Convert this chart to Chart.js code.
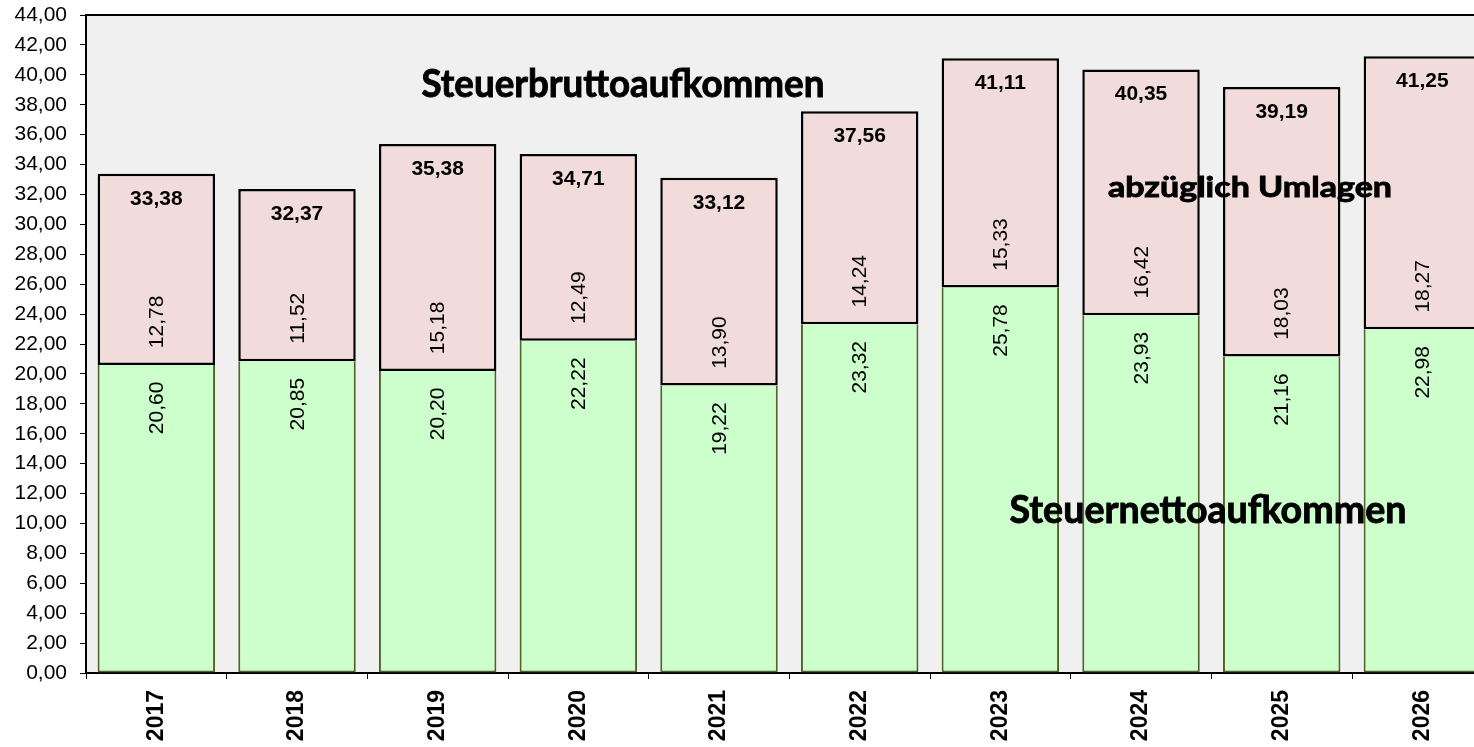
<!DOCTYPE html>
<html>
<head>
<meta charset="utf-8">
<script src="https://cdn.jsdelivr.net/npm/chart.js@4/dist/chart.umd.min.js"></script>
<style>
  html, body { margin: 0; padding: 0; background: #fff; overflow: hidden; }
  #wrap { width: 1474px; height: 747px; overflow: hidden; }
</style>
</head>
<body>
<div id="wrap"><canvas id="chart" width="1500" height="747"></canvas></div>
<script>
const years = ['2017', '2018', '2019', '2020', '2021', '2022', '2023', '2024', '2025', '2026'];
const netto = [20.60, 20.85, 20.20, 22.22, 19.22, 23.32, 25.78, 23.93, 21.16, 22.98];
const umlagen = [12.78, 11.52, 15.18, 12.49, 13.90, 14.24, 15.33, 16.42, 18.03, 18.27];
const brutto = [33.38, 32.37, 35.38, 34.71, 33.12, 37.56, 41.11, 40.35, 39.19, 41.25];

function fmt(v) {
  return v.toFixed(2).replace('.', ',');
}

// grauer Hintergrund + Rahmen oben
const plotBackground = {
  id: 'plotBackground',
  beforeDraw(chart) {
    const { ctx, chartArea: a } = chart;
    ctx.save();
    ctx.fillStyle = '#f0f0f0';
    ctx.fillRect(a.left, a.top, a.right - a.left, a.bottom - a.top);
    ctx.strokeStyle = '#000';
    ctx.lineWidth = 2;
    ctx.beginPath();
    ctx.moveTo(a.left, a.top);
    ctx.lineTo(a.right, a.top);
    ctx.lineTo(a.right, a.bottom);
    ctx.stroke();
    ctx.restore();
  }
};

// Beschriftung: Mitte x, Grundlinie y, Versalhoehe capH, Breite width
function bigText(ctx, text, x, y, capH, width) {
  const size = capH / 0.72;
  ctx.save();
  ctx.font = 'bold ' + size.toFixed(1) + 'px Lato';
  ctx.textAlign = 'center';
  ctx.textBaseline = 'alphabetic';
  const w = ctx.measureText(text).width;
  ctx.translate(x, y);
  ctx.scale(width / w, 1);
  ctx.lineWidth = 0.9;
  ctx.strokeStyle = '#000';
  ctx.fillText(text, 0, 0);
  ctx.strokeText(text, 0, 0);
  ctx.restore();
}

const barLabels = {
  id: 'barLabels',
  afterDatasetsDraw(chart) {
    const { ctx, scales } = chart;
    const green = chart.getDatasetMeta(0).data;
    ctx.save();
    ctx.fillStyle = '#000';
    ctx.textAlign = 'center';
    ctx.textBaseline = 'middle';
    green.forEach((bar, i) => {
      const x = bar.x;
      const mid = bar.y;
      ctx.font = '21px "Liberation Sans", Arial';
      [[netto[i], mid + 43], [umlagen[i], mid - 43]].forEach(([v, y]) => {
        ctx.save();
        ctx.translate(x, y);
        ctx.rotate(-Math.PI / 2);
        ctx.fillText(fmt(v), 0, 1);
        ctx.restore();
      });
      ctx.font = 'bold 21px "Liberation Sans", Arial';
      ctx.fillText(fmt(brutto[i]), x, scales.y.getPixelForValue(brutto[i]) + 25);
    });

    const xs = scales.x, ys = scales.y;
    bigText(ctx, 'Steuerbruttoaufkommen', xs.getPixelForValue(3.317), ys.getPixelForValue(38.55), 27, 403);
    bigText(ctx, 'abzüglich Umlagen', xs.getPixelForValue(7.775), ys.getPixelForValue(31.84), 20.5, 284);
    bigText(ctx, 'Steuernettoaufkommen', xs.getPixelForValue(7.476), ys.getPixelForValue(10.05), 27.5, 397);
    ctx.restore();
  }
};

const ctx = document.getElementById('chart').getContext('2d');
const chart = new Chart(ctx, {
  type: 'bar',
  data: {
    labels: years,
    datasets: [{
      label: 'Steuernettoaufkommen',
      data: netto,
      backgroundColor: '#ccffcc',
      borderColor: '#4f6228',
      borderWidth: 2,
      borderSkipped: 'top',
      barPercentage: 0.835,
      categoryPercentage: 1
    }, {
      label: 'Umlagen',
      data: umlagen,
      backgroundColor: '#f2dcdb',
      borderColor: '#000',
      borderWidth: 2.5,
      borderSkipped: false,
      barPercentage: 0.835,
      categoryPercentage: 1
    }]
  },
  options: {
    responsive: false,
    animation: false,
    devicePixelRatio: 1,
    layout: { padding: { top: 15, right: 7.3, left: 0, bottom: 0 } },
    plugins: {
      legend: { display: false },
      tooltip: { enabled: false }
    },
    scales: {
      x: {
        stacked: true,
        grid: { drawOnChartArea: false, tickLength: 6, color: '#000', lineWidth: 1 },
        border: { color: '#000', width: 2 },
        ticks: {
          color: '#000',
          font: { family: '"Liberation Sans", Arial', size: 23, weight: 'bold' },
          minRotation: 90,
          maxRotation: 90,
          padding: 11
        },
        afterFit(scale) {
          scale.height = 74;
          scale.paddingLeft = 0;
          scale.paddingRight = 0;
        }
      },
      y: {
        stacked: true,
        min: 0,
        max: 44,
        grid: { drawOnChartArea: false, tickLength: 6, color: '#000', lineWidth: 1 },
        border: { color: '#000', width: 2 },
        ticks: {
          stepSize: 2,
          color: '#000',
          font: { family: '"Liberation Sans", Arial', size: 21 },
          padding: 13,
          callback: v => fmt(v)
        },
        afterFit(scale) {
          scale.width = 86;
          scale.paddingTop = 0;
          scale.paddingBottom = 0;
        }
      }
    }
  },
  plugins: [plotBackground, barLabels]
});
</script>
</body>
</html>
